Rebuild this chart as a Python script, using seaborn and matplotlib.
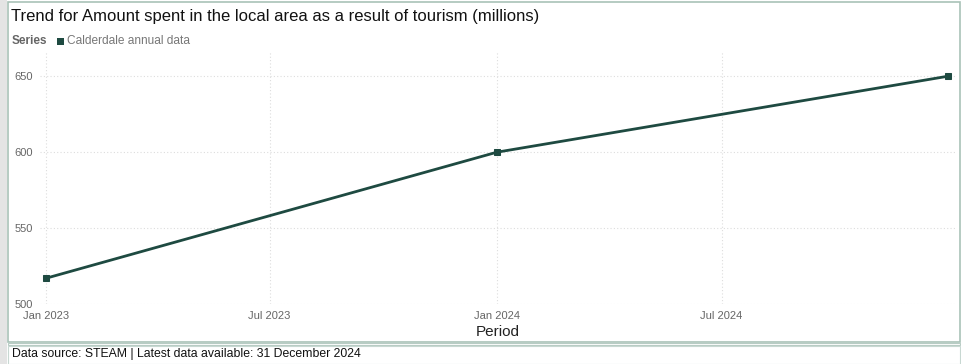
import matplotlib
matplotlib.use("Agg")
import matplotlib.pyplot as plt
from matplotlib.patches import Rectangle
import seaborn as sns
import pandas as pd

# ---- data ----
periods = ["2023-01-01", "2024-01-01", "2024-12-31"]
values = [517, 600, 650]
series_name = "Calderdale annual data"
tick_dates = ["2023-01-01", "2023-07-01", "2024-01-01", "2024-07-01"]
tick_labels = ["Jan 2023", "Jul 2023", "Jan 2024", "Jul 2024"]
y_ticks = [500, 550, 600, 650]

df = pd.DataFrame({"Period": pd.to_datetime(periods), "Value": values, "Series": series_name})

sns.set_theme(style="white")
plt.rcParams['font.family'] = ['Liberation Sans', 'DejaVu Sans']

W, H = 961, 364
fig = plt.figure(figsize=(W / 100, H / 100), dpi=100)

def fx(px):
    return px / W

def fy(py):
    return 1 - py / H

# axes: left 40px, right 955px, top 52px, bottom 304px
ax = fig.add_axes([fx(40), fy(304), fx(955 - 40), (304 - 52) / H])

line_color = "#1e4a41"
sns.lineplot(data=df, x="Period", y="Value", ax=ax, color=line_color, linewidth=2,
             marker="s", markersize=5, markeredgecolor=line_color, legend=False)

ax.set_xlim(pd.Timestamp("2022-12-27"), pd.Timestamp("2025-01-06"))
ax.set_ylim(500, 666)
ax.set_yticks(y_ticks)
ax.set_xticks(pd.to_datetime(tick_dates))
ax.set_xticklabels(tick_labels)
ax.tick_params(axis="both", labelsize=8, colors="#666666", length=0, pad=5)
ax.tick_params(axis="y", pad=5)
ax.grid(True, color="#dddddd", linestyle=(0, (1, 2)), linewidth=0.8)
for s in ax.spines.values():
    s.set_visible(False)
ax.set_ylabel("")
ax.set_xlabel("Period", fontsize=11, color="#222222", labelpad=3)

# frame decorations
fig.patches.append(Rectangle((0, 0), fx(7), 1, transform=fig.transFigure,
                             facecolor="#e4e4e4", edgecolor="none", zorder=-5))
fig.patches.append(Rectangle((fx(8), fy(342)), fx(960 - 8), (342 - 2) / H, transform=fig.transFigure,
                             facecolor="none", edgecolor="#a9c2b8", linewidth=1.2, zorder=-4))
fig.patches.append(Rectangle((fx(8), fy(345)), fx(960 - 8), 2 / H, transform=fig.transFigure,
                             facecolor="none", edgecolor="#b8ccc4", linewidth=0.8, zorder=-4))
fig.patches.append(Rectangle((fx(8), fy(364)), fx(960 - 8), 18 / H, transform=fig.transFigure,
                             facecolor="none", edgecolor="#c8d8d2", linewidth=0.8, zorder=-4))

# title & legend
fig.text(fx(11), fy(17), "Trend for Amount spent in the local area as a result of tourism (millions)",
         fontsize=12, color="#111111", va="center", ha="left")
fig.text(fx(12), fy(41), "Series", fontsize=8.5, fontweight="bold", color="#666666", va="center", ha="left")
fig.patches.append(Rectangle((fx(57), fy(45)), fx(7), 7 / H, transform=fig.transFigure,
                             facecolor=line_color, edgecolor="none"))
fig.text(fx(67), fy(41), series_name, fontsize=8.6, color="#777777", va="center", ha="left")

fig.text(fx(12), fy(354), "Data source: STEAM | Latest data available: 31 December 2024",
         fontsize=8.8, color="#111111", va="center", ha="left")

fig.savefig("out.png", dpi=100)
